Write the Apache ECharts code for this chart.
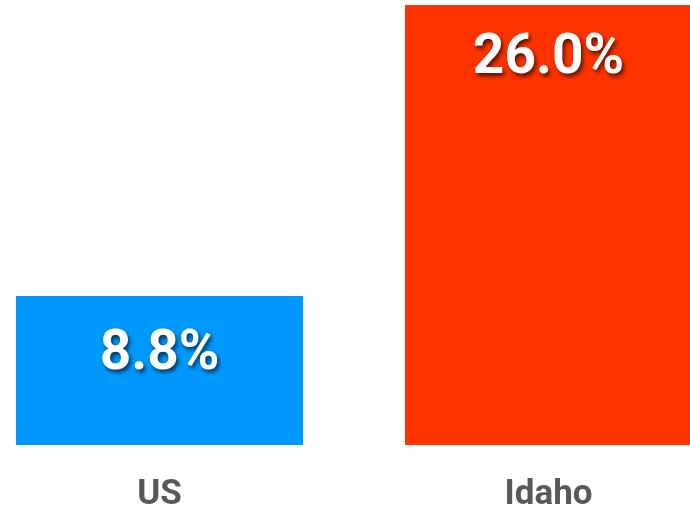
<!DOCTYPE html>
<html>
<head>
<meta charset="utf-8">
<script src="https://cdn.jsdelivr.net/npm/echarts@6/dist/echarts.min.js"></script>
<style>html,body{margin:0;padding:0;background:#fff}#c{width:690px;height:513px}</style>
</head>
<body>
<div id="c"></div>
<script>
const categories = ['US', 'Idaho'];
const values = [8.8, 26.0];
const barColors = ['#0099FF', '#FF3300'];
const labelOffsets = [59, 54];

const chart = echarts.init(document.getElementById('c'), null, {renderer: 'canvas'});
chart.setOption({
  animation: false,
  grid: {left: -35, right: -53, top: 5, bottom: 68, containLabel: false, outerBoundsMode: 'none'},
  xAxis: {
    type: 'category',
    data: categories,
    axisLine: {show: false},
    axisTick: {show: false},
    axisLabel: {
      color: '#595959', fontFamily: 'Roboto', fontWeight: 'bold', fontSize: 35, margin: 33
    }
  },
  yAxis: {type: 'value', min: 0, max: 26, show: false, splitLine: {show: false}},
  series: [{
    type: 'bar',
    barCategoryGap: '26.2%',
    data: values.map((v, i) => ({
      value: v,
      itemStyle: {color: barColors[i]},
      label: {position: ['50%', labelOffsets[i]]}
    })),
    label: {
      show: true,
      align: 'center',
      verticalAlign: 'middle',
      formatter: p => p.value.toFixed(1) + '%',
      color: '#fff',
      fontFamily: 'Roboto',
      fontWeight: 'bold',
      fontSize: 55,
      textShadowColor: 'rgba(0,0,0,0.65)',
      textShadowBlur: 4,
      textShadowOffsetX: 2,
      textShadowOffsetY: 3
    }
  }]
});
</script>
</body>
</html>
